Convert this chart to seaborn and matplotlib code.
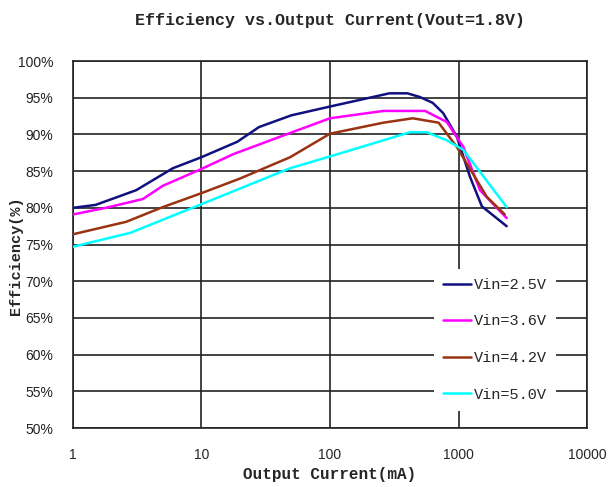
import pandas as pd
import matplotlib
matplotlib.use("Agg")
import matplotlib.pyplot as plt
import matplotlib.ticker as mticker
import seaborn as sns

# values
vin_labels = ["Vin=2.5V", "Vin=3.6V", "Vin=4.2V", "Vin=5.0V"]
line_colors = ["#10107e", "#ff00ff", "#993311", "#00ffff"]

cur_25 = [1, 1.5, 3.1, 6, 10, 19, 28, 50, 100, 290, 400, 500, 630, 760, 970, 1230, 1520, 2370]
eff_25 = [80.0, 80.4, 82.4, 85.4, 86.9, 89.0, 91.0, 92.6, 93.8, 95.6, 95.6, 95.1, 94.3, 92.9, 89.7, 84.2, 80.2, 77.5]

cur_36 = [1, 1.8, 3.5, 5, 10, 17.6, 49, 100, 260, 550, 810, 1090, 1470, 2370]
eff_36 = [79.1, 80.0, 81.2, 83.0, 85.3, 87.3, 90.2, 92.2, 93.2, 93.2, 91.7, 88.3, 82.4, 78.6]

cur_42 = [1, 2.6, 5, 10, 20, 49, 100, 260, 440, 700, 970, 1660, 2290]
eff_42 = [76.4, 78.1, 80.1, 82.0, 84.0, 86.9, 90.1, 91.6, 92.2, 91.6, 88.3, 81.5, 79.1]

cur_50 = [1, 2.8, 10, 49, 100, 420, 565, 810, 1090, 2370]
eff_50 = [74.7, 76.6, 80.5, 85.4, 87.0, 90.3, 90.3, 89.2, 87.9, 80.1]

x_ticks = [1, 10, 100, 1000, 10000]
y_ticks = [50, 55, 60, 65, 70, 75, 80, 85, 90, 95, 100]

frames = []
for lab, xs, ys in zip(vin_labels, [cur_25, cur_36, cur_42, cur_50], [eff_25, eff_36, eff_42, eff_50]):
    frames.append(pd.DataFrame({"current": xs, "eff": ys, "vin": lab}))
df = pd.concat(frames, ignore_index=True)

sns.set_style("white")
plt.rcParams["font.family"] = ["Liberation Sans", "DejaVu Sans"]
mono = ["Liberation Mono", "DejaVu Sans Mono"]

fig = plt.figure(figsize=(6.08, 4.87), dpi=100)
ax = fig.add_axes([0.120, 0.121, 0.8455, 0.7537])

sns.lineplot(data=df, x="current", y="eff", hue="vin", palette=line_colors,
             estimator=None, sort=False, linewidth=1.8, ax=ax, zorder=3)

ax.set_xscale("log")
ax.set_xlim(1, 10000)
ax.set_ylim(50, 100)
ax.set_xticks(x_ticks)
ax.xaxis.set_major_formatter(mticker.FuncFormatter(lambda v, p: f"{v:g}"))
ax.xaxis.set_minor_locator(mticker.LogLocator(base=10, subs=range(2, 10)))
ax.xaxis.set_minor_formatter(mticker.NullFormatter())
ax.set_yticks(y_ticks)
ax.set_yticklabels([f"{v}%" for v in y_ticks])
ax.tick_params(axis="x", which="major", direction="in", length=0, labelsize=10, pad=14)
ax.tick_params(axis="x", which="minor", direction="in", length=3, width=1, color="#333333")
ax.tick_params(axis="y", length=0, labelsize=10, pad=14, colors="#222222")

ax.grid(True, which="major", color="#222222", linewidth=1.2)
for s in ax.spines.values():
    s.set_color("#222222")
    s.set_linewidth(1.2)

ax.set_title("Efficiency vs.Output Current(Vout=1.8V)", family=mono,
             fontweight="bold", fontsize=12, pad=26)
ax.set_xlabel("Output Current(mA)", family=mono, fontweight="bold", fontsize=11.5, labelpad=4)
ax.set_ylabel("Efficiency(%)", family=mono, fontweight="bold", fontsize=11)
ax.yaxis.set_label_coords(-0.097, 0.47)

leg = ax.legend(loc="upper left", bbox_to_anchor=(0.688, 0.455), frameon=True,
                prop={"family": mono, "size": 11}, labelspacing=1.48,
                handlelength=1.8, handletextpad=0.2, borderpad=0.6,
                fancybox=False, framealpha=1)
leg.get_frame().set_edgecolor("white")
leg.get_frame().set_linewidth(0)
leg.set_zorder(5)

fig.savefig("out.png", dpi=100)
